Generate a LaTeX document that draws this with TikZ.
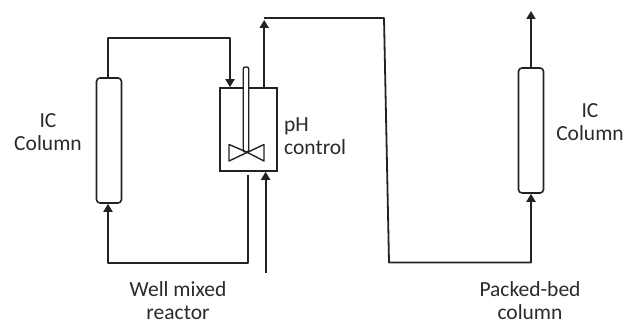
\documentclass[tikz,border=0pt]{standalone}
\usepackage{fontspec}
\setmainfont{Carlito}
\usetikzlibrary{arrows.meta}
\definecolor{ink}{HTML}{222222}
\definecolor{txt}{HTML}{2A2A2A}
\tikzset{
  pipe/.style={draw=ink,line width=1.8pt,line join=round},
  flow/.style={pipe,-{Triangle[length=8pt,width=9pt]}},
  columnbox/.style={draw=ink,line width=1.6pt,rounded corners=3.5pt,fill=white,inner sep=0pt,minimum width=25pt,minimum height=125pt},
  vessel/.style={draw=ink,line width=1.6pt,inner sep=0pt,minimum width=57pt,minimum height=83pt},
  shaft/.style={draw=ink,line width=1.4pt,rounded corners=2pt,fill=white,inner sep=0pt,minimum width=5.5pt,minimum height=85pt},
  lbl/.style={text=txt,font=\fontsize{21.5}{23}\selectfont,align=center,inner sep=0pt}
}
\begin{document}
\begin{tikzpicture}[x=1pt,y=-1pt]
\useasboundingbox (0,0) rectangle (624,323);
\node[columnbox] (leftcol) at (109,140.5) {};
\node[columnbox] (rightcol) at (531,130.5) {};
\node[vessel] (reactor) at (248.5,129.5) {};
\node[shaft] (stir) at (246,109.5) {};
\coordinate (hub) at (246.5,152);
\draw[ink,line width=1.4pt,line join=round] (hub) -- (229,144.5) -- (229,161) -- (264,144.5) -- (264,161) -- cycle;
\coordinate (a1) at (108,38);
\coordinate (a2) at (230,38);
\draw[flow] (leftcol.north -| a1) -- (a1) -- (a2) -- (a2 |- reactor.north);
\coordinate (b1) at (264.2,88);
\coordinate (b2) at (264.2,20);
\draw[flow] (b1) -- (b2);
\coordinate (c1) at (264.2,18);
\coordinate (c2) at (384,18);
\coordinate (c3) at (389,262.5);
\coordinate (c4) at (531,262.5);
\draw[flow] (c1) -- (c2) -- (c3) -- (c4) -- (rightcol.south);
\coordinate (d1) at (531,11);
\draw[flow] (rightcol.north) -- (d1);
\coordinate (e1) at (248,175);
\coordinate (e2) at (248,263);
\coordinate (e3) at (108,263);
\draw[flow] (e1) -- (e2) -- (e3) -- (e3 |- leftcol.south);
\coordinate (f1) at (265.6,273);
\draw[flow] (f1) -- (f1 |- reactor.south);
\node[lbl] (l1) at (48,132.5) {IC\\Column};
\node[lbl,align=left,anchor=west] (l2) at (284,136) {pH\\control};
\node[lbl] (l3) at (178,301) {Well mixed\\reactor};
\node[lbl] (l4) at (530,301) {Packed-bed\\column};
\node[lbl] (l5) at (590,122.5) {IC\\Column};
\end{tikzpicture}
\end{document}
